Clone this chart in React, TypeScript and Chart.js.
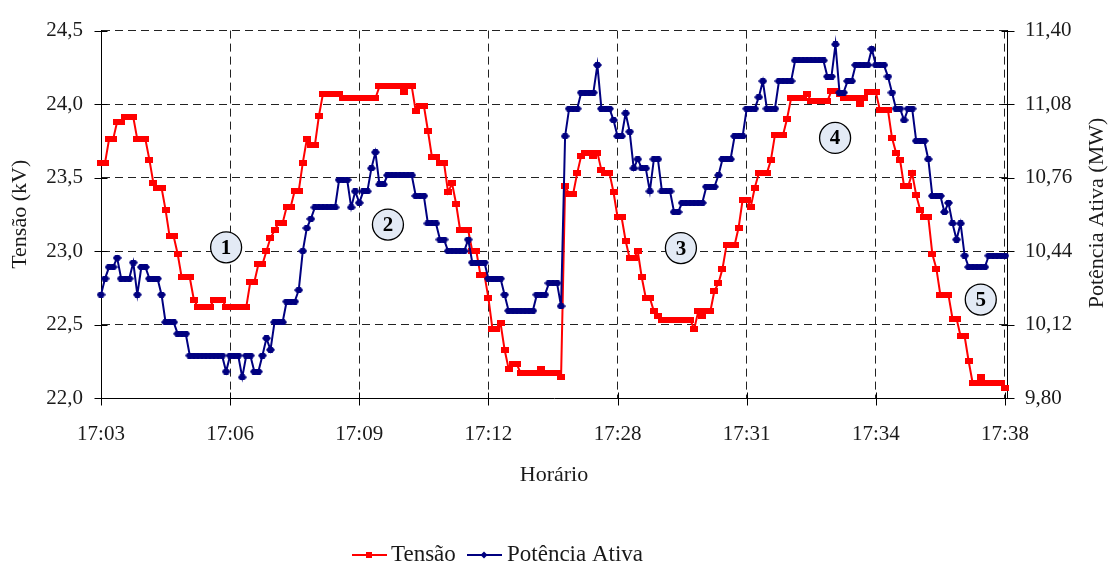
import { useEffect, useRef } from 'react';
import { Chart, registerables } from 'chart.js';

Chart.register(...registerables);

// ---------- data ----------
const timeLabels = ['17:03', '17:06', '17:09', '17:12', '17:28', '17:31', '17:34', '17:38'];
const samplesPerLabel = 32;

// Tensão (kV) – one value per sample
const tensao = [
  23.60, 23.60, 23.76, 23.76, 23.88, 23.88, 23.91, 23.91, 23.91, 23.76,
  23.76, 23.76, 23.62, 23.46, 23.43, 23.43, 23.28, 23.10, 23.10, 22.98,
  22.82, 22.82, 22.82, 22.67, 22.62, 22.62, 22.62, 22.62, 22.67, 22.67,
  22.67, 22.62, 22.62, 22.62, 22.62, 22.62, 22.62, 22.79, 22.79, 22.91,
  22.91, 23.00, 23.09, 23.14, 23.19, 23.19, 23.30, 23.30, 23.41, 23.41,
  23.60, 23.76, 23.72, 23.72, 23.92, 24.07, 24.07, 24.07, 24.07, 24.07,
  24.04, 24.04, 24.04, 24.04, 24.04, 24.04, 24.04, 24.04, 24.04, 24.12,
  24.12, 24.12, 24.12, 24.12, 24.12, 24.08, 24.12, 24.12, 23.95, 23.99,
  23.99, 23.82, 23.64, 23.64, 23.60, 23.60, 23.40, 23.46, 23.32, 23.14,
  23.14, 23.14, 23.00, 23.00, 22.84, 22.84, 22.68, 22.47, 22.47, 22.51,
  22.33, 22.20, 22.23, 22.23, 22.17, 22.17, 22.17, 22.17, 22.17, 22.20,
  22.17, 22.17, 22.17, 22.17, 22.14, 23.44, 23.39, 23.39, 23.53, 23.65,
  23.67, 23.67, 23.65, 23.67, 23.55, 23.53, 23.53, 23.40, 23.23, 23.23,
  23.07, 22.95, 22.95, 23.00, 22.82, 22.68, 22.68, 22.59, 22.56, 22.53,
  22.53, 22.53, 22.53, 22.53, 22.53, 22.53, 22.53, 22.47, 22.59, 22.56,
  22.59, 22.59, 22.73, 22.78, 22.88, 23.04, 23.04, 23.04, 23.16, 23.35,
  23.35, 23.30, 23.43, 23.53, 23.53, 23.53, 23.62, 23.79, 23.79, 23.79,
  23.90, 24.04, 24.04, 24.04, 24.04, 24.07, 24.02, 24.02, 24.02, 24.02,
  24.02, 24.09, 24.09, 24.07, 24.04, 24.04, 24.04, 24.04, 24.00, 24.04,
  24.08, 24.08, 24.08, 23.96, 23.96, 23.96, 23.77, 23.67, 23.62, 23.44,
  23.44, 23.53, 23.38, 23.28, 23.23, 23.23, 22.98, 22.88, 22.70, 22.70,
  22.70, 22.54, 22.54, 22.42, 22.42, 22.25, 22.10, 22.10, 22.14, 22.10,
  22.10, 22.10, 22.10, 22.10, 22.07,
];

// Potência Ativa (MW) – one value per sample
const potencia = [
  10.25, 10.32, 10.37, 10.37, 10.41, 10.32, 10.32, 10.32, 10.39, 10.25,
  10.37, 10.37, 10.32, 10.32, 10.32, 10.25, 10.13, 10.13, 10.13, 10.08,
  10.08, 10.08, 9.985, 9.985, 9.985, 9.985, 9.985, 9.985, 9.985, 9.985,
  9.985, 9.915, 9.985, 9.985, 9.985, 9.89, 9.985, 9.985, 9.915, 9.915,
  9.985, 10.06, 10.01, 10.13, 10.13, 10.13, 10.22, 10.22, 10.22, 10.27,
  10.44, 10.54, 10.58, 10.63, 10.63, 10.63, 10.63, 10.63, 10.63, 10.75,
  10.75, 10.75, 10.63, 10.70, 10.65, 10.70, 10.70, 10.80, 10.87, 10.73,
  10.73, 10.77, 10.77, 10.77, 10.77, 10.77, 10.77, 10.77, 10.68, 10.68,
  10.68, 10.56, 10.56, 10.56, 10.49, 10.49, 10.44, 10.44, 10.44, 10.44,
  10.44, 10.49, 10.39, 10.39, 10.39, 10.39, 10.32, 10.32, 10.32, 10.32,
  10.25, 10.18, 10.18, 10.18, 10.18, 10.18, 10.18, 10.18, 10.25, 10.25,
  10.25, 10.30, 10.30, 10.30, 10.20, 10.94, 11.06, 11.06, 11.06, 11.13,
  11.13, 11.13, 11.13, 11.25, 11.06, 11.06, 11.06, 11.01, 10.94, 10.94,
  11.04, 10.96, 10.80, 10.84, 10.80, 10.80, 10.70, 10.84, 10.84, 10.70,
  10.70, 10.70, 10.61, 10.61, 10.65, 10.65, 10.65, 10.65, 10.65, 10.65,
  10.72, 10.72, 10.72, 10.77, 10.84, 10.84, 10.84, 10.94, 10.94, 10.94,
  11.06, 11.06, 11.06, 11.11, 11.18, 11.06, 11.06, 11.06, 11.18, 11.18,
  11.18, 11.18, 11.27, 11.27, 11.27, 11.27, 11.27, 11.27, 11.27, 11.27,
  11.20, 11.20, 11.34, 11.13, 11.13, 11.18, 11.18, 11.25, 11.25, 11.25,
  11.25, 11.32, 11.25, 11.25, 11.25, 11.20, 11.13, 11.06, 11.06, 11.01,
  11.06, 11.06, 10.92, 10.92, 10.92, 10.84, 10.68, 10.68, 10.68, 10.61,
  10.65, 10.56, 10.49, 10.56, 10.42, 10.37, 10.37, 10.37, 10.37, 10.37,
  10.42, 10.42, 10.42, 10.42, 10.42,
];

const leftTicks = [22.0, 22.5, 23.0, 23.5, 24.0, 24.5];
const rightTicks = [9.8, 10.12, 10.44, 10.76, 11.08, 11.4];

// circled notes (x in sample index, y in kV)
const noteLabels = ['1', '2', '3', '4', '5'];
const noteX = [31.0, 71.1, 143.7, 181.9, 218.0];
const noteY = [23.025, 23.18, 23.02, 23.77, 22.67];

const SERIF = "'Liberation Serif', 'DejaVu Serif', serif";
const TEXT = '#1a1a1a';
const RED = '#ff0000';
const BLUE = '#000080';

function makeRedMarker() {
  const c = document.createElement('canvas');
  c.width = 8;
  c.height = 6;
  const g = c.getContext('2d')!;
  g.fillStyle = RED;
  g.fillRect(0, 0, 8, 6);
  return c;
}

function makeBlueMarker() {
  const c = document.createElement('canvas');
  c.width = 9;
  c.height = 6;
  const g = c.getContext('2d')!;
  g.fillStyle = BLUE;
  g.beginPath();
  g.moveTo(0, 3);
  g.lineTo(2.5, 0);
  g.lineTo(6.5, 0);
  g.lineTo(9, 3);
  g.lineTo(6.5, 6);
  g.lineTo(2.5, 6);
  g.closePath();
  g.fill();
  return c;
}

const decorPlugin = {
  id: 'decor',
  afterDatasetsDraw(chart: any) {
    const { ctx, scales } = chart;
    const xs = scales.x;
    const ys = scales.y;
    ctx.save();
    for (let i = 0; i < noteLabels.length; i++) {
      const cx = xs.getPixelForValue(noteX[i]);
      const cy = ys.getPixelForValue(noteY[i]);
      ctx.beginPath();
      ctx.arc(cx, cy, 15.5, 0, Math.PI * 2);
      ctx.fillStyle = '#e3eaf5';
      ctx.fill();
      ctx.lineWidth = 1.3;
      ctx.strokeStyle = '#000';
      ctx.stroke();
      ctx.fillStyle = '#000';
      ctx.font = `bold 21px ${SERIF}`;
      ctx.textAlign = 'center';
      ctx.textBaseline = 'middle';
      ctx.fillText(noteLabels[i], cx, cy + 1);
    }
    ctx.restore();
  },
  afterDraw(chart: any) {
    const { ctx, scales, chartArea } = chart;
    ctx.save();
    ctx.strokeStyle = '#000';
    ctx.lineWidth = 1;
    // crossing tick marks
    const L = Math.round(chartArea.left) + 0.5;
    const R = Math.round(chartArea.right) + 0.5;
    const B = Math.round(chartArea.bottom) + 0.5;
    ctx.beginPath();
    for (const v of leftTicks) {
      const y = Math.round(scales.y.getPixelForValue(v)) + 0.5;
      ctx.moveTo(L - 7, y);
      ctx.lineTo(L + 6, y);
    }
    for (const v of rightTicks) {
      const y = Math.round(scales.y1.getPixelForValue(v)) + 0.5;
      ctx.moveTo(R - 6, y);
      ctx.lineTo(R + 7, y);
    }
    for (let k = 0; k < timeLabels.length; k++) {
      const x = Math.round(scales.x.getPixelForValue(k * samplesPerLabel)) + 0.5;
      ctx.moveTo(x, B - 6);
      ctx.lineTo(x, B + 7);
    }
    ctx.stroke();

    // right axis title (reads bottom to top)
    ctx.fillStyle = TEXT;
    ctx.font = `22px ${SERIF}`;
    ctx.textAlign = 'center';
    ctx.textBaseline = 'middle';
    ctx.save();
    ctx.translate(1097, 213);
    ctx.rotate(-Math.PI / 2);
    ctx.fillText('Potência Ativa (MW)', 0, 0);
    ctx.restore();

    // legend
    const ly = 555;
    ctx.lineWidth = 2;
    ctx.strokeStyle = RED;
    ctx.beginPath();
    ctx.moveTo(352, ly);
    ctx.lineTo(387, ly);
    ctx.stroke();
    ctx.fillStyle = RED;
    ctx.fillRect(366, ly - 3, 6, 6);
    ctx.strokeStyle = BLUE;
    ctx.beginPath();
    ctx.moveTo(467, ly);
    ctx.lineTo(502, ly);
    ctx.stroke();
    ctx.fillStyle = BLUE;
    ctx.beginPath();
    ctx.moveTo(484, ly - 3.5);
    ctx.lineTo(487.5, ly);
    ctx.lineTo(484, ly + 3.5);
    ctx.lineTo(480.5, ly);
    ctx.closePath();
    ctx.fill();
    ctx.fillStyle = TEXT;
    ctx.font = `23px ${SERIF}`;
    ctx.textAlign = 'left';
    ctx.fillText('Tensão', 391, ly);
    ctx.fillText('Potência Ativa', 507, ly);
    ctx.restore();
  },
};

export default function App() {
  const ref = useRef<HTMLCanvasElement>(null);

  useEffect(() => {
    if (!ref.current) return;
    const tickFont = { family: SERIF, size: 21 };
    const titleFont = { family: SERIF, size: 22 };
    const gridCommon = { color: '#222', lineWidth: 1, drawTicks: false };
    const borderCommon = { display: true, color: '#000', width: 1, dash: [8, 5] };

    const chart = new Chart(ref.current, {
      type: 'line',
      data: {
        datasets: [
          {
            label: 'Tensão',
            data: tensao.map((v, i) => ({ x: i, y: v })),
            yAxisID: 'y',
            borderColor: RED,
            backgroundColor: RED,
            borderWidth: 2,
            pointStyle: makeRedMarker() as any,
            pointRadius: 4,
            pointHoverRadius: 4,
            tension: 0,
            order: 2,
            clip: false as any,
          },
          {
            label: 'Potência Ativa',
            data: potencia.map((v, i) => ({ x: i, y: v })),
            yAxisID: 'y1',
            borderColor: BLUE,
            backgroundColor: BLUE,
            borderWidth: 2,
            pointStyle: makeBlueMarker() as any,
            pointRadius: 4,
            pointHoverRadius: 4,
            tension: 0,
            order: 1,
            clip: false as any,
          },
        ],
      },
      options: {
        animation: false,
        responsive: false,
        devicePixelRatio: 1,
        events: [],
        layout: { padding: { top: 20, bottom: 80, left: 0, right: 0 } },
        plugins: { legend: { display: false }, tooltip: { enabled: false } },
        scales: {
          x: {
            type: 'linear',
            min: 0,
            max: (timeLabels.length - 1) * samplesPerLabel + 0.5,
            afterBuildTicks: (s: any) => {
              s.ticks = timeLabels.map((_, k) => ({ value: k * samplesPerLabel }));
            },
            ticks: {
              autoSkip: false,
              maxRotation: 0,
              padding: 24,
              font: tickFont,
              color: TEXT,
              callback: (v: any) => timeLabels[Math.round(Number(v) / samplesPerLabel)] ?? '',
            },
            grid: gridCommon,
            border: borderCommon,
            title: { display: true, text: 'Horário', font: titleFont, color: TEXT, padding: { top: 0, bottom: 0 } },
            afterFit: (s: any) => {
              s.height = 90;
            },
          },
          y: {
            type: 'linear',
            position: 'left',
            min: 22,
            max: 24.5,
            afterBuildTicks: (s: any) => {
              s.ticks = leftTicks.map((v) => ({ value: v }));
            },
            ticks: {
              padding: 18,
              font: tickFont,
              color: TEXT,
              callback: (v: any) => Number(v).toFixed(1).replace('.', ','),
            },
            grid: gridCommon,
            border: borderCommon,
            title: { display: true, text: 'Tensão (kV)', font: titleFont, color: TEXT, padding: { top: 7, bottom: 0 } },
            afterFit: (s: any) => {
              s.width = 101;
            },
          },
          y1: {
            type: 'linear',
            position: 'right',
            min: 9.8,
            max: 11.4,
            afterBuildTicks: (s: any) => {
              s.ticks = rightTicks.map((v) => ({ value: v }));
            },
            ticks: {
              padding: 18,
              font: tickFont,
              color: TEXT,
              callback: (v: any) => Number(v).toFixed(2).replace('.', ','),
            },
            grid: { drawOnChartArea: false, drawTicks: false },
            border: { display: true, color: '#000', width: 1 },
            afterFit: (s: any) => {
              s.width = 103;
            },
          },
        },
      } as any,
      plugins: [decorPlugin],
    });
    return () => chart.destroy();
  }, []);

  return (
    <div style={{ position: 'absolute', left: 0, top: 0, width: 1110, height: 568, background: '#fff' }}>
      <canvas ref={ref} width={1110} height={568} style={{ display: 'block' }} />
    </div>
  );
}
